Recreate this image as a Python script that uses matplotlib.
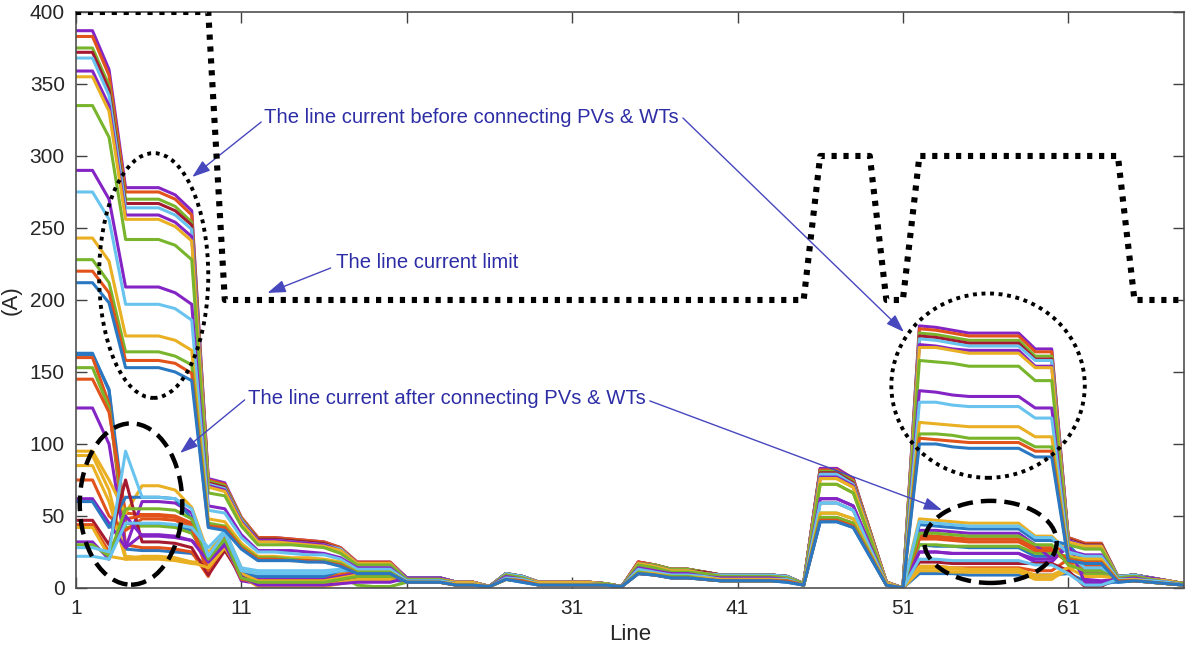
import matplotlib
matplotlib.use("Agg")
import matplotlib.pyplot as plt
from matplotlib.patches import Ellipse
import numpy as np

plt.rcParams['font.family'] = ['Liberation Sans', 'DejaVu Sans']

# line numbers 1..68
lines = np.arange(1, 69)

# current limit of each line (A)
limit = [400, 400, 400, 400, 400, 400, 400, 400, 400,
         200, 200, 200, 200, 200, 200, 200, 200, 200, 200, 200, 200, 200, 200, 200, 200, 200, 200,
         200, 200, 200, 200, 200, 200, 200, 200, 200, 200, 200, 200, 200, 200, 200, 200, 200, 200,
         300, 300, 300, 300, 200, 200,
         300, 300, 300, 300, 300, 300, 300, 300, 300, 300, 300, 300, 300,
         200, 200, 200, 200]

# MATLAB-like colour names
B, R, Y, P, G, C, D = '#2A78C2', '#E2531B', '#EAB023', '#8524C4', '#78B52C', '#68C4EE', '#A51A30'

# line current before connecting PVs & WTs (one row per hour)
before = [
    [387,387,360,278,278,278,273,262,76,73,49,35,35,34,33,32,28,18,18,18,7,7,7,4,4,1,10,8,4,4,4,4,3,1,18,16,13,13,11,9,9,9,9,8,3,83,83,76,40,4,0,182,181,179,177,177,177,177,166,166,35,31,31,8,9,7,5,3],
    [383,383,356,275,275,275,270,259,75,72,49,35,35,34,33,32,28,18,18,18,7,7,7,4,4,1,10,8,4,4,4,4,3,1,18,16,13,13,11,9,9,9,9,8,3,82,82,75,40,4,0,180,179,177,175,175,175,175,164,164,35,31,31,8,9,7,5,3],
    [375,375,349,270,270,270,265,254,74,71,48,34,34,33,32,31,27,17,17,17,7,7,7,4,4,1,10,8,4,4,4,4,3,1,17,16,13,13,11,9,9,9,9,8,3,81,81,74,39,4,0,177,176,174,172,172,172,172,161,161,34,30,30,8,9,7,5,3],
    [372,372,346,267,267,267,262,252,73,70,47,34,34,33,32,31,27,17,17,17,7,7,7,4,4,1,10,8,4,4,4,4,3,1,17,15,12,12,11,9,9,9,9,8,3,80,80,73,38,4,0,175,174,172,170,170,170,170,159,159,34,30,30,8,9,7,5,3],
    [368,368,342,264,264,264,259,249,72,69,47,33,33,32,31,30,27,17,17,17,7,7,7,4,4,1,10,8,4,4,4,4,3,1,17,15,12,12,10,9,9,9,9,8,3,79,79,72,38,4,0,173,172,170,168,168,168,168,158,158,33,29,29,8,9,7,5,3],
    [359,359,335,259,259,259,254,244,71,68,46,33,33,32,31,30,26,17,17,17,7,7,7,4,4,1,9,7,4,4,4,4,3,1,17,15,12,12,10,8,8,8,8,7,3,77,77,71,37,4,0,169,168,166,165,165,165,165,154,154,33,29,29,7,8,7,5,3],
    [355,355,331,256,256,256,251,241,70,67,45,32,32,31,30,29,26,17,17,17,6,6,6,4,4,1,9,7,4,4,4,4,3,1,17,15,12,12,10,8,8,8,8,7,3,76,76,70,37,4,0,167,167,165,163,163,163,163,153,153,32,29,29,7,8,6,5,3],
    [335,335,313,242,242,242,238,228,66,64,43,30,30,30,29,28,24,16,16,16,6,6,6,3,3,1,9,7,3,3,3,3,3,1,16,14,11,11,10,8,8,8,8,7,3,72,72,66,35,3,0,158,157,156,154,154,154,154,144,144,30,27,27,7,8,6,4,3],
    [290,290,270,209,209,209,205,197,57,55,37,26,26,26,25,24,21,14,14,14,5,5,5,3,3,1,8,6,3,3,3,3,2,1,14,12,10,10,8,7,7,7,7,6,2,62,62,57,30,3,0,137,136,134,133,133,133,133,125,125,26,23,23,6,7,5,4,2],
    [275,275,256,197,197,197,194,186,54,52,35,25,25,24,23,23,20,13,13,13,5,5,5,3,3,1,7,6,3,3,3,3,2,1,13,11,9,9,8,6,6,6,6,6,2,59,59,54,28,3,0,129,129,127,126,126,126,126,118,118,25,22,22,6,6,5,4,2],
    [243,243,227,175,175,175,172,165,48,46,31,22,22,21,21,20,18,11,11,11,4,4,4,3,3,1,6,5,3,3,3,3,2,1,11,10,8,8,7,6,6,6,6,5,2,52,52,48,25,3,0,115,114,113,112,112,112,112,105,105,22,20,20,5,6,4,3,2],
    [228,228,212,164,164,164,161,155,45,43,29,21,21,20,19,19,17,11,11,11,4,4,4,2,2,1,6,5,2,2,2,2,2,1,11,9,8,8,6,5,5,5,5,5,2,49,49,45,24,2,0,107,107,106,104,104,104,104,98,98,21,18,18,5,5,4,3,2],
    [220,220,205,158,158,158,156,149,43,42,28,20,20,19,19,18,16,10,10,10,4,4,4,2,2,1,6,5,2,2,2,2,2,1,10,9,7,7,6,5,5,5,5,5,2,47,47,43,23,2,0,104,103,102,101,101,101,101,95,95,20,18,18,5,5,4,3,2],
    [212,212,198,153,153,153,150,144,42,40,27,19,19,19,18,18,15,10,10,10,4,4,4,2,2,1,6,4,2,2,2,2,2,1,10,9,7,7,6,5,5,5,5,4,2,46,46,42,22,2,0,100,100,98,97,97,97,97,91,91,19,17,17,4,5,4,3,2],
]
before_colors = [P, R, G, D, C, P, Y, G, P, C, Y, G, R, B]

# line current after connecting PVs & WTs
# lines 1-20 and lines 52-63 differ; other lines follow the same hour of 'before'
after_head = [
    [163,163,137,27,26,26,25,24,14,28,6,4,4,4,4,4,5,6,6,6],
    [162,162,138,45,44,44,43,40,22,33,10,6,6,6,6,6,8,10,10,10],
    [160,160,128,30,28,28,27,25,8,35,12,8,8,8,8,8,10,12,12,12],
    [153,153,125,42,43,43,42,38,20,34,8,5,5,5,5,5,8,2,1,1],
    [145,145,122,52,51,51,50,45,12,38,10,7,7,7,7,7,9,11,11,11],
    [125,125,100,28,37,37,36,33,22,30,5,3,3,3,3,3,6,8,8,8],
    [95,95,75,52,71,71,68,56,24,40,14,9,9,9,9,9,11,13,13,13],
    [92,92,68,22,21,21,20,18,18,35,12,2,2,2,2,2,4,6,6,6],
    [85,85,60,20,20,20,19,17,16,30,8,1,1,1,1,1,3,5,5,5],
    [75,75,50,40,48,48,47,42,10,35,12,7,7,7,7,7,9,11,11,11],
    [62,62,45,28,60,60,59,52,20,33,9,6,6,6,6,6,8,10,10,10],
    [60,60,42,63,63,63,62,48,18,32,10,8,8,8,8,8,12,12,12,12],
    [47,47,30,75,32,32,31,28,9,26,8,5,5,5,5,5,7,9,9,9],
    [44,44,25,48,50,50,49,44,12,30,6,4,4,4,4,4,6,8,8,8],
    [42,42,22,20,22,22,21,18,14,28,10,5,5,5,5,5,7,9,9,9],
    [32,32,20,50,36,36,35,33,18,30,8,2,2,2,2,2,3,4,4,4],
    [30,30,22,55,55,55,54,48,20,34,7,4,4,4,4,4,6,8,8,8],
    [28,28,25,95,63,63,62,55,22,38,12,10,10,10,10,10,12,13,13,13],
    [22,22,20,45,45,45,44,42,28,40,14,12,12,12,12,12,13,14,14,14],
]
after_tail = [
    [10,10,10,9,9,9,9,9,9,10,5,4],
    [30,29,29,28,28,28,28,22,22,28,4,2],
    [15,15,14,14,14,14,14,12,12,20,15,15],
    [30,30,29,29,29,29,29,24,24,22,10,10],
    [35,35,34,34,34,34,34,28,28,26,15,15],
    [25,25,24,24,24,24,24,18,18,30,6,5],
    [48,47,46,45,45,45,45,36,36,25,22,22],
    [12,12,11,11,11,11,11,6,6,14,8,8],
    [14,14,13,13,13,13,13,7,7,12,20,20],
    [37,36,35,34,34,34,34,27,27,20,12,12],
    [40,40,39,38,38,38,38,30,20,28,12,12],
    [44,43,42,41,41,41,41,33,33,30,18,18],
    [18,18,17,17,17,17,17,17,17,12,1,1],
    [34,34,33,32,32,32,32,26,26,18,14,14],
    [15,15,14,13,13,13,13,9,9,14,18,18],
    [25,25,24,24,24,24,24,20,20,30,4,3],
    [38,38,37,36,36,36,36,30,30,16,12,12],
    [46,45,44,43,43,43,43,35,35,24,14,14],
    [20,20,19,19,19,19,19,16,16,10,2,2],
]
after_pair = [13, 12, 11, 10, 9, 8, 7, 6, 5, 4, 3, 2, 1, 0, 6, 5, 2, 4, 9]
after_colors = [B, B, R, G, R, P, Y, Y, Y, R, P, B, D, R, Y, P, G, C, C]

fig = plt.figure(figsize=(12, 6.58), dpi=100)
ax = fig.add_axes([0.0633, 0.1064, 0.9234, 0.8754])

for head, tail, j, col in zip(after_head, after_tail, after_pair, after_colors):
    row = head + before[j][20:51] + tail + before[j][63:68]
    ax.plot(lines, row, color=col, lw=2.2, solid_joinstyle='round')

for row, col in zip(before, before_colors):
    ax.plot(lines, row, color=col, lw=2.2, solid_joinstyle='round')

ax.plot(lines, limit, color='black', lw=4.4, linestyle=(0, (0.85, 1.1)),
        dash_capstyle='butt', solid_joinstyle='miter', zorder=4)

# ellipses marking the groups
for (cx, cy, w, h, ls, lw) in [(5.7, 217, 6.6, 170, (0, (1, 1.2)), 2.8),
                               (4.33, 58.3, 6.2, 112, (0, (3.5, 1.8)), 3.2),
                               (56.15, 140.5, 11.7, 128, (0, (1, 1.2)), 2.8),
                               (56.3, 32, 8.0, 57, (0, (3.5, 1.8)), 3.2)]:
    ax.add_patch(Ellipse((cx, cy), w, h, fill=False, edgecolor='black',
                         lw=lw, linestyle=ls, zorder=5))

txt_col = '#2D2DA6'
arr_col = '#4747BE'
arrow = dict(arrowstyle='-|>,head_length=1.1,head_width=0.38', color=arr_col,
             lw=1.0, shrinkA=0, shrinkB=0)

ax.text(12.4, 326.4, 'The line current before connecting PVs & WTs', color=txt_col,
        fontsize=14.6, va='center', ha='left')
ax.annotate('', xy=(8.03, 285.4), xytext=(12.2, 323.6), arrowprops=arrow)
ax.annotate('', xy=(51.06, 177.8), xytext=(37.7, 326.4), arrowprops=arrow)

ax.text(16.7, 225.7, 'The line current limit', color=txt_col,
        fontsize=14.6, va='center', ha='left')
ax.annotate('', xy=(12.58, 204.9), xytext=(16.4, 222.2), arrowprops=arrow)

ax.text(11.42, 131.9, 'The line current after connecting PVs & WTs', color=txt_col,
        fontsize=14.6, va='center', ha='left')
ax.annotate('', xy=(7.3, 93.75), xytext=(11.2, 130.6), arrowprops=arrow)
ax.annotate('', xy=(53.36, 54.2), xytext=(35.7, 129.9), arrowprops=arrow)

ax.set_xlim(1, 68)
ax.set_ylim(0, 400)
ax.set_xticks([1, 11, 21, 31, 41, 51, 61])
ax.set_yticks(np.arange(0, 401, 50))
ax.tick_params(direction='in', length=8, width=1, top=True, right=True,
               colors='#404040', labelsize=15, labelcolor='#262626', pad=8)
for s in ax.spines.values():
    s.set_color('#505050')
    s.set_linewidth(1.2)
ax.set_xlabel('Line', fontsize=16, color='#262626', labelpad=4)
ax.set_ylabel('(A)', fontsize=16, color='#262626', labelpad=6)

fig.savefig('out.png', dpi=100)
plt.close(fig)
